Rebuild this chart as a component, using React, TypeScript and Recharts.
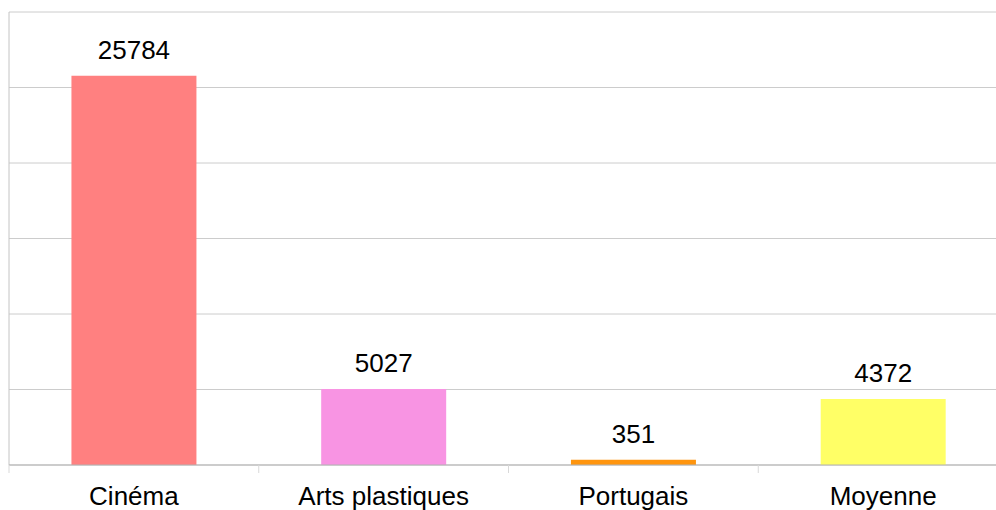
import { Bar, BarChart, CartesianGrid, Cell, LabelList, XAxis, YAxis } from 'recharts';

const categories = ['Cinéma', 'Arts plastiques', 'Portugais', 'Moyenne'];
const values = [25784, 5027, 351, 4372];
const colors = ['#ff8080', '#f894e3', '#ff950e', '#ffff66'];
const yTicks = [0, 5000, 10000, 15000, 20000, 25000, 30000];

const data = categories.map((name, i) => ({ name, value: values[i] }));

const CHART_W = 1008;
const AXIS_W = 9;
const BAND = (CHART_W - AXIS_W) / categories.length;
const FONT = '"Liberation Sans", Arial, sans-serif';

const CategoryTick = (props: any) => {
  const { x, y, payload } = props;
  return (
    <g>
      <line x1={x - BAND / 2} x2={x - BAND / 2} y1={y} y2={y + 8} stroke="#d9d9d9" />
      <text x={x} y={y + 40} textAnchor="middle" fontSize={26} fontFamily={FONT} fill="#000">
        {payload.value}
      </text>
    </g>
  );
};

// y ticks are kept for the grid, but nothing is drawn for them
const NoTick = () => <g />;

export default function App() {
  return (
    <div style={{ position: 'absolute', left: 0, top: 0, width: 996, height: 510, overflow: 'hidden', background: '#fff' }}>
      <BarChart
        width={CHART_W}
        height={510}
        data={data}
        margin={{ top: 12, right: 0, left: 0, bottom: 0 }}
        barCategoryGap="25%"
      >
        <CartesianGrid vertical={false} stroke="#cccccc" />
        <YAxis
          width={AXIS_W}
          domain={[0, 30000]}
          ticks={yTicks}
          tick={<NoTick />}
          tickLine={false}
          axisLine={{ stroke: '#c4c4c4' }}
        />
        <XAxis
          dataKey="name"
          height={45}
          tickSize={0}
          tickMargin={0}
          tickLine={false}
          axisLine={{ stroke: '#b3b3b3' }}
          tick={<CategoryTick />}
          interval={0}
        />
        <Bar dataKey="value" isAnimationActive={false}>
          {data.map((d, i) => (
            <Cell key={d.name} fill={colors[i]} />
          ))}
          <LabelList
            dataKey="value"
            position="top"
            offset={17}
            fill="#000"
            fontSize={26}
            fontFamily={FONT}
          />
        </Bar>
      </BarChart>
    </div>
  );
}
